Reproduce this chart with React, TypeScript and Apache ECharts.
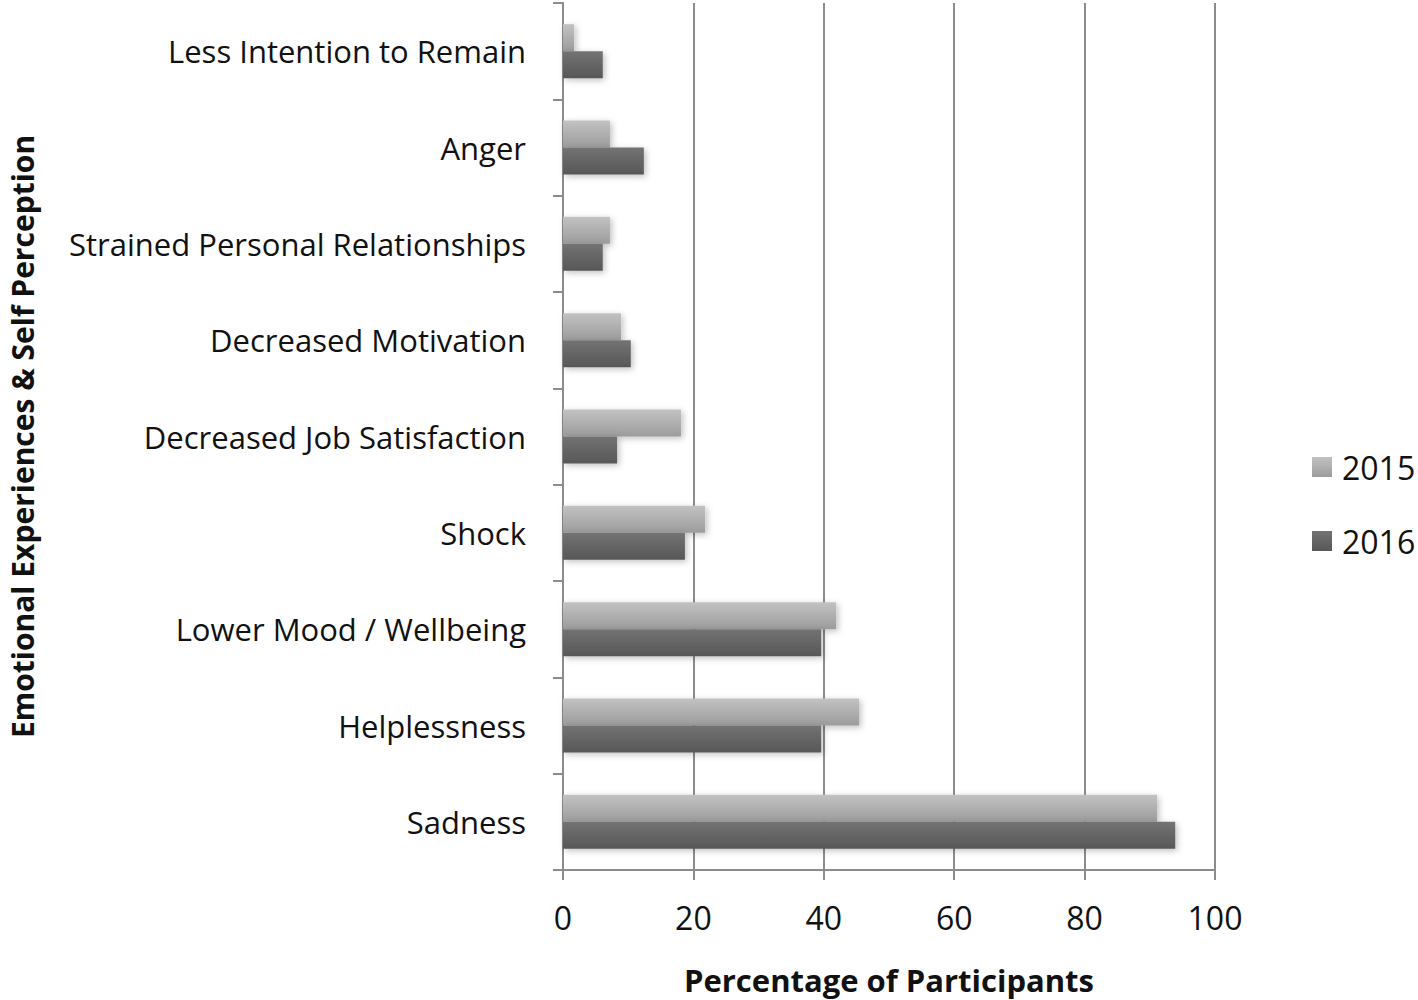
import React, { useEffect, useRef } from "react";
import * as echarts from "echarts";

const categories = [
  "Less Intention to Remain",
  "Anger",
  "Strained Personal Relationships",
  "Decreased Motivation",
  "Decreased Job Satisfaction",
  "Shock",
  "Lower Mood / Wellbeing",
  "Helplessness",
  "Sadness",
];
const values2015 = [1.7, 7.2, 7.2, 8.9, 18.1, 21.8, 41.9, 45.4, 91.1];
const values2016 = [6.1, 12.4, 6.1, 10.4, 8.3, 18.7, 39.6, 39.6, 93.9];
const seriesNames = ["2015", "2016"];

const FONT = "'Open Sans', 'Noto Sans', sans-serif";

export default function App() {
  const ref = useRef<HTMLDivElement>(null);
  useEffect(() => {
    const chart = echarts.init(ref.current!, null, { renderer: "svg" });
    const grad = (a: string, b: string) =>
      new echarts.graphic.LinearGradient(0, 0, 0, 1, [
        { offset: 0, color: a },
        { offset: 1, color: b },
      ]);
    chart.setOption({
      animation: false,
      backgroundColor: "#ffffff",
      grid: { left: 563, right: 203, top: 3, bottom: 130 },
      legend: {
        orient: "vertical",
        left: 1307,
        top: 446,
        icon: "rect",
        itemWidth: 20,
        itemHeight: 20,
        itemGap: 42,
        data: seriesNames,
        textStyle: { fontFamily: FONT, fontSize: 32, color: "#111", padding: [0, 0, 0, 5] },
      },
      xAxis: {
        type: "value",
        min: 0,
        max: 100,
        interval: 20,
        name: "Percentage of Participants",
        nameLocation: "middle",
        nameGap: 94,
        nameTextStyle: { fontFamily: FONT, fontSize: 31, fontWeight: "bold", color: "#111" },
        axisLine: { show: true, lineStyle: { color: "#8c8c8c", width: 2 } },
        axisTick: { show: true, length: 10, lineStyle: { color: "#8c8c8c", width: 2 } },
        axisLabel: { fontFamily: FONT, fontSize: 32, color: "#111", margin: 31 },
        splitLine: { show: true, lineStyle: { color: "#8c8c8c", width: 2 } },
      },
      yAxis: {
        type: "category",
        inverse: true,
        data: categories,
        name: "Emotional Experiences & Self Perception",
        nameLocation: "middle",
        nameGap: 526,
        nameTextStyle: { fontFamily: FONT, fontSize: 30, fontWeight: "bold", color: "#111" },
        axisLine: { show: true, lineStyle: { color: "#8c8c8c", width: 2 } },
        axisTick: { show: true, length: 10, lineStyle: { color: "#8c8c8c", width: 2 } },
        axisLabel: { fontFamily: FONT, fontSize: 31, color: "#111", margin: 37, padding: [8, 0, 0, 0] },
        splitLine: { show: false },
      },
      series: [
        {
          name: seriesNames[0],
          type: "bar",
          data: values2015,
          barGap: "0%",
          barCategoryGap: "44%",
          itemStyle: {
            color: grad("#c2c2c2", "#9c9c9c"),
            shadowBlur: 6,
            shadowColor: "rgba(0,0,0,0.25)",
            shadowOffsetX: 2,
            shadowOffsetY: 2,
          },
        },
        {
          name: seriesNames[1],
          type: "bar",
          data: values2016,
          barGap: "0%",
          barCategoryGap: "44%",
          itemStyle: {
            color: grad("#737373", "#575757"),
            shadowBlur: 6,
            shadowColor: "rgba(0,0,0,0.25)",
            shadowOffsetX: 2,
            shadowOffsetY: 2,
          },
        },
      ],
    });
    return () => chart.dispose();
  }, []);
  return <div ref={ref} style={{ width: 1418, height: 1000, position: "absolute", left: 0, top: 0 }} />;
}
